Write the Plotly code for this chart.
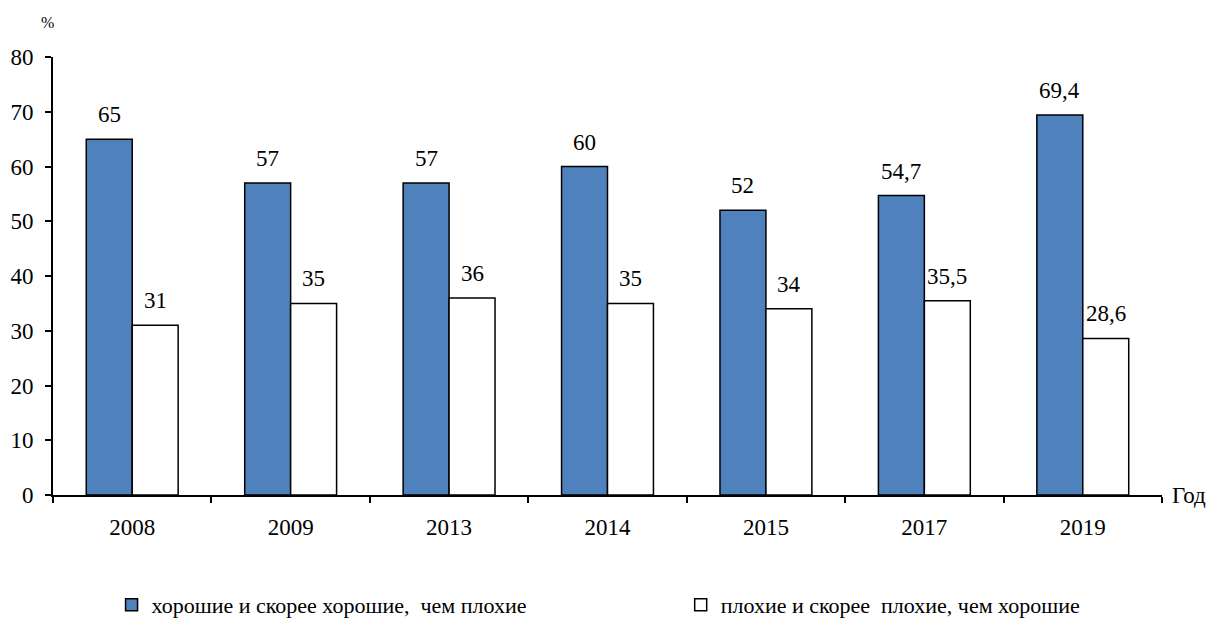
import plotly.graph_objects as go

years = ["2008", "2009", "2013", "2014", "2015", "2017", "2019"]
good = [65, 57, 57, 60, 52, 54.7, 69.4]
bad = [31, 35, 36, 35, 34, 35.5, 28.6]
name_good = "хорошие и скорее хорошие,  чем плохие"
name_bad = "плохие и скорее  плохие, чем хорошие"
y_ticks = [0, 10, 20, 30, 40, 50, 60, 70, 80]

def fmt(v):
    return (f"{v:g}").replace(".", ",")

FONT = "Liberation Serif, Times New Roman, serif"
FS = 23
fig = go.Figure()
fig.add_trace(go.Bar(x=years, y=good, name=name_good, legend="legend",
                     marker=dict(color="#4F81BD", line=dict(color="black", width=1.5))))
fig.add_trace(go.Bar(x=years, y=bad, name=name_bad, legend="legend2",
                     marker=dict(color="white", line=dict(color="black", width=1.5))))

annotations = []
for i, v in enumerate(good):
    annotations.append(dict(text=fmt(v), x=i, y=v, xref="x", yref="y", xshift=-23, yshift=10,
                            yanchor="bottom", showarrow=False, font=dict(family=FONT, size=FS)))
for i, v in enumerate(bad):
    annotations.append(dict(text=fmt(v), x=i, y=v, xref="x", yref="y", xshift=23, yshift=10,
                            yanchor="bottom", showarrow=False, font=dict(family=FONT, size=FS)))
annotations += [
    dict(text="%", x=0, xref="paper", xanchor="center", xshift=-6, y=80, yref="y", yshift=35,
         yanchor="middle", showarrow=False, font=dict(family=FONT, size=16)),
    dict(text="Год", x=1, xref="paper", xanchor="left", xshift=8, y=0, yref="y", yanchor="middle",
         showarrow=False, font=dict(family=FONT, size=FS)),
]

leg_common = dict(orientation="h", xanchor="left", y=-0.251, yanchor="middle",
                  font=dict(family=FONT, size=22), bgcolor="rgba(0,0,0,0)")
fig.update_layout(
    width=1208, height=621,
    margin=dict(l=45, r=54, t=49, b=134, autoexpand=False),
    plot_bgcolor="white", paper_bgcolor="white",
    barmode="group", bargap=0.42, bargroupgap=0,
    font=dict(family=FONT, size=FS, color="black"),
    showlegend=True,
    legend=dict(x=0.0528, **leg_common),
    legend2=dict(x=0.566, **leg_common),
    xaxis=dict(type="category", range=[-0.5, len(years) - 0.5], showline=True, linecolor="black",
               linewidth=2, ticks="outside", tickson="boundaries", ticklen=6, tickwidth=2,
               tickcolor="black", showgrid=False, automargin=False, tickangle=0,
               ticklabelstandoff=10, tickfont=dict(family=FONT, size=FS)),
    yaxis=dict(range=[0, 80], tickvals=y_ticks, showline=True, linecolor="black", linewidth=2,
               ticks="outside", ticklen=6, tickwidth=1.5, tickcolor="black", showgrid=False,
               zeroline=False, automargin=False, ticklabelstandoff=7,
               tickfont=dict(family=FONT, size=FS)),
    annotations=annotations,
)
fig.write_html("out.html")
